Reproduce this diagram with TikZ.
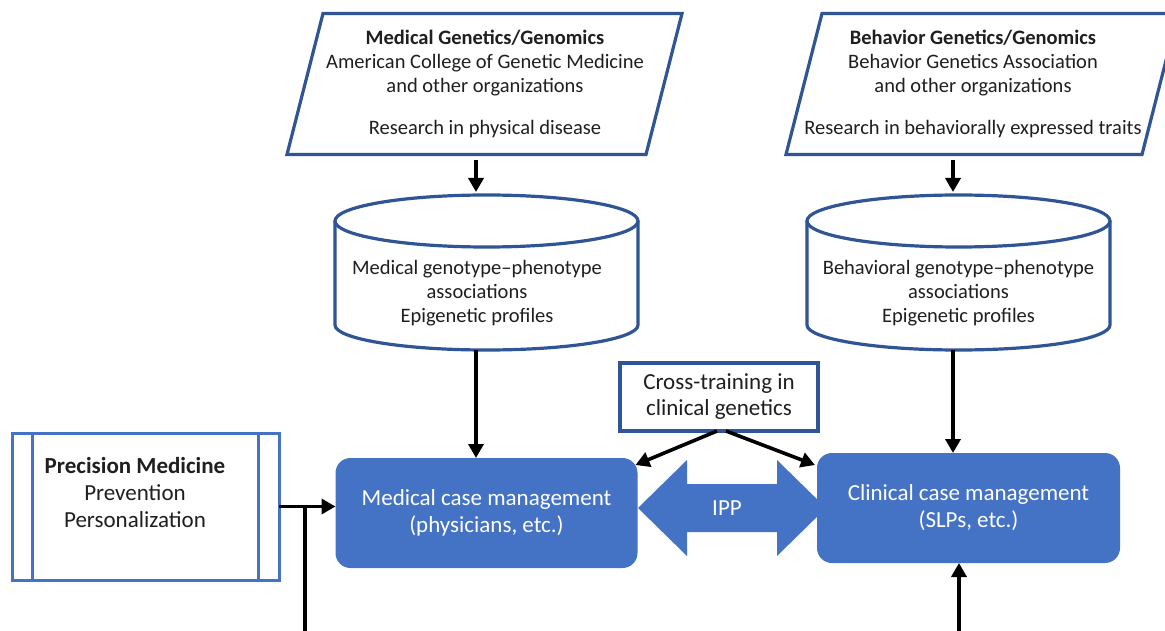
\documentclass[tikz,border=0pt]{standalone}
\usepackage{fontspec}
\setmainfont{Carlito}
\usetikzlibrary{arrows.meta}

\definecolor{darkblue}{HTML}{2F5597}
\definecolor{midblue}{HTML}{4472C4}
\definecolor{inkgray}{HTML}{1F1F1F}

\begin{document}
\begin{tikzpicture}[x=1pt, y=-1pt,
  every node/.style={align=center, inner sep=0pt, outer sep=0pt, text=inkgray},
  srcline/.style={draw=darkblue, line width=3.2pt},
  srcbox/.style={minimum width=359pt, minimum height=141pt, font=\fontsize{20.5}{24}\selectfont},
  cylbox/.style={minimum width=303pt, minimum height=155pt},
  cyltext/.style={font=\fontsize{20.5}{24}\selectfont},
  casebox/.style={fill=midblue, rounded corners=15pt, minimum width=302pt, minimum height=110pt, text=white, font=\fontsize{23}{27}\selectfont},
  flow/.style={line width=3.6pt, -{Triangle[length=14pt,width=15pt]}}]

\fill[white] (0,0) rectangle (1165,631);
\useasboundingbox (0,0) rectangle (1165,631);

% research sources
\node (medsrc) [srcbox] at (485,83.5) {\textbf{Medical Genetics/Genomics}\\American College of Genetic Medicine\\and other organizations\\[18pt]Research in physical disease};
\draw[srcline] (medsrc.center) ++(-198,71) -- ++(36,-141) -- ++(359,0) -- ++(-36,141) -- cycle;
\node (behsrc) [srcbox] at (973,83.5) {\textbf{Behavior Genetics/Genomics}\\Behavior Genetics Association\\and other organizations\\[18pt]Research in behaviorally expressed traits};
\draw[srcline] (behsrc.center) ++(-187,71) -- ++(36,-141) -- ++(356,0) -- ++(-36,141) -- cycle;

% databases
\node (medcyl) [cylbox] at (486.5,272.5) {};
\draw[srcline] ([yshift=-26pt]medcyl.north) ellipse [x radius=151.5pt, y radius=26pt];
\draw[srcline] ([yshift=-26pt]medcyl.north west) -- ([yshift=25pt]medcyl.south west) arc[start angle=180, end angle=360, x radius=151.5pt, y radius=25pt] -- ([yshift=-26pt]medcyl.north east);
\node (medcyltxt) [cyltext, xshift=-9.5pt, yshift=-20.5pt] at (medcyl.center) {Medical genotype–phenotype\\associations\\Epigenetic profiles};

\node (behcyl) [cylbox] at (958.5,272.5) {};
\draw[srcline] ([yshift=-26pt]behcyl.north) ellipse [x radius=151.5pt, y radius=26pt];
\draw[srcline] ([yshift=-26pt]behcyl.north west) -- ([yshift=25pt]behcyl.south west) arc[start angle=180, end angle=360, x radius=151.5pt, y radius=25pt] -- ([yshift=-26pt]behcyl.north east);
\node (behcyltxt) [cyltext, yshift=-20.5pt] at (behcyl.center) {Behavioral genotype–phenotype\\associations\\Epigenetic profiles};

% case management
\node (xtrain) [draw=darkblue, line width=3.2pt, minimum width=198pt, minimum height=68pt, font=\fontsize{23}{26}\selectfont] at (719,397) {Cross-training in\\clinical genetics};

\coordinate (ippc) at (732,508);
\fill[midblue] (ippc) ++(-94,0) -- ++(49,-48) -- ++(0,24) -- ++(90,0) -- ++(0,-24) -- ++(49,48) -- ++(-49,48) -- ++(0,-24) -- ++(-90,0) -- ++(0,24) -- cycle;
\node (ipp) [text=white, font=\fontsize{23}{26}\selectfont] at ([xshift=-5pt]ippc) {IPP};

\node (medcase) [casebox] at (486.5,513) {Medical case management\\(physicians, etc.)};
\node (behcase) [casebox, minimum width=303pt] at (968.5,508) {Clinical case management\\(SLPs, etc.)};

\node (prec) [draw=midblue, line width=3pt, minimum width=267pt, minimum height=147pt] at (145.5,506.5) {};
\draw[midblue, line width=3pt] ([xshift=20pt]prec.north west) -- ([xshift=20pt]prec.south west);
\draw[midblue, line width=3pt] ([xshift=-21pt]prec.north east) -- ([xshift=-21pt]prec.south east);
\node (prectxt) [font=\fontsize{23}{27}\selectfont] at (135,493) {\textbf{Precision Medicine}\\Prevention\\Personalization};

% connectors
\coordinate (medaxis) at (476,0);
\coordinate (behaxis) at (953,0);
\coordinate (precfeed) at (305,640);
\coordinate (behfeed) at (959,640);

\draw[flow, shorten <=6pt, shorten >=3pt] (medsrc.south -| medaxis) -- (medcyl.north -| medaxis);
\draw[flow, shorten <=6pt, shorten >=3pt] (behsrc.south -| behaxis) -- (behcyl.north -| behaxis);
\draw[flow] (medcyl.south -| medaxis) -- (medcase.north -| medaxis);
\draw[flow] (behcyl.south -| behaxis) -- (behcase.north -| behaxis);
\draw[flow] ([xshift=-2pt]xtrain.south) -- ([xshift=-2pt,yshift=-7pt]medcase.north east);
\draw[flow] ([xshift=7pt]xtrain.south) -- ([xshift=-2pt,yshift=-12pt]behcase.north west);
\draw[flow] (prec.east) -- (prec.east -| medcase.west);
\draw[line width=3.6pt] (precfeed) -- (precfeed |- prec.east);
\draw[flow] (behfeed) -- (behfeed |- behcase.south);
\end{tikzpicture}
\end{document}
